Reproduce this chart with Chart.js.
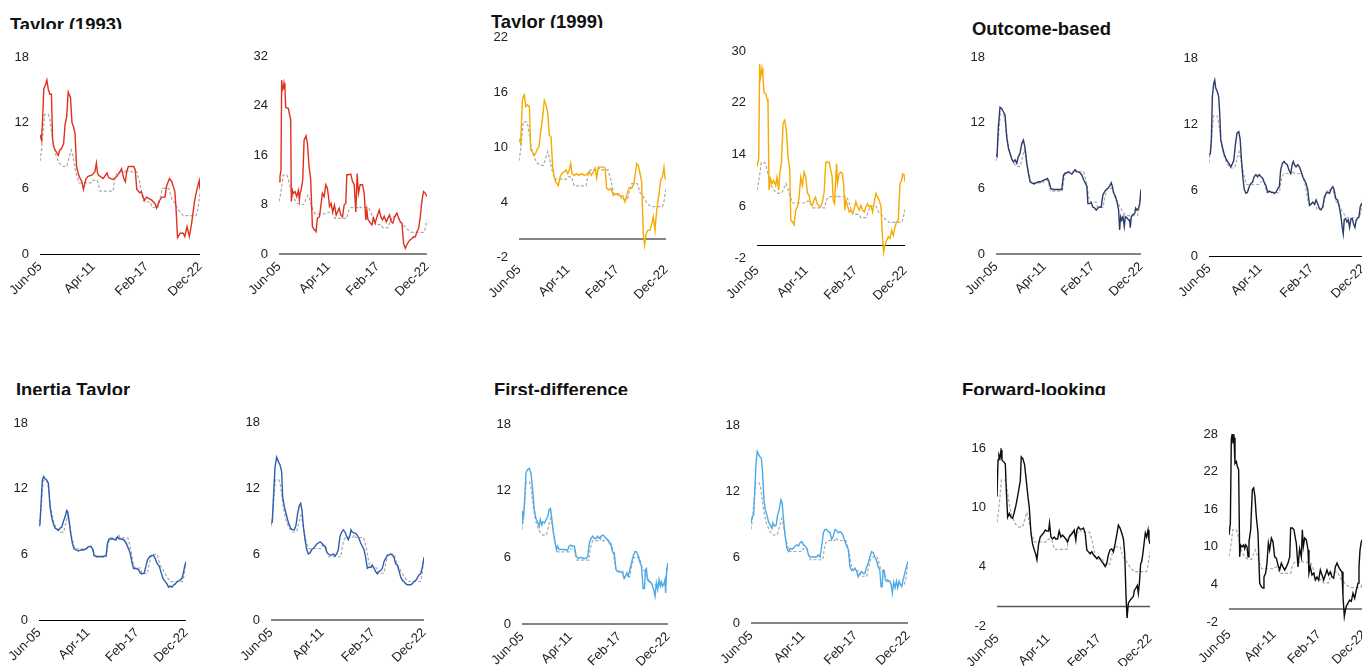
<!DOCTYPE html>
<html>
<head>
<meta charset="utf-8">
<script src="https://cdn.jsdelivr.net/npm/chart.js@4.4.1/dist/chart.umd.min.js"></script>
<style>
  html, body { margin: 0; padding: 0; background: #fff; width: 1362px; height: 666px; overflow: hidden; position: relative; }
  .ttl { position: absolute; font: bold 18.4px "Liberation Sans", Arial, sans-serif; line-height: 18px; color: #111; white-space: nowrap; overflow: hidden; }
  canvas { position: absolute; }
</style>
</head>
<body>
<div class="ttl" style="left:10px;top:16px;height:13px;">Taylor (1993)</div>
<div class="ttl" style="left:491px;top:13px;height:14.5px;">Taylor (1999)</div>
<div class="ttl" style="left:972px;top:19.5px;height:20px;">Outcome-based</div>
<div class="ttl" style="left:16px;top:381px;height:14px;">Inertia Taylor</div>
<div class="ttl" style="left:494px;top:380.5px;height:14px;">First-difference</div>
<div class="ttl" style="left:962px;top:381px;height:14px;">Forward-looking</div>
<script>
// x positions are months counted from Jun-05; tick labels sit every 70 months
const tickMonths = [0, 70, 140, 210];
const tickLabels = ['Jun-05', 'Apr-11', 'Feb-17', 'Dec-22'];

// policy rate (grey dashed reference line), [month, %]
const policyRate = [[0,8.5],[2,9.5],[4,11.0],[6,12.75],[11,12.75],[13,12.25],[15,11.25],[17,10.25],[19,9.5],[21,9.0],[24,8.5],[26,8.25],[30,8.0],[35,8.0],[37,8.5],[39,9.0],[41,9.5],[43,9.0],[45,8.25],[47,7.5],[49,7.0],[51,6.5],[68,6.5],[70,6.75],[75,6.75],[77,6.25],[79,5.75],[96,5.75],[98,6.75],[100,7.25],[102,7.5],[112,7.5],[114,7.75],[116,7.5],[127,7.5],[129,7.0],[131,6.5],[133,5.75],[135,5.0],[137,4.75],[145,4.75],[147,4.25],[155,4.25],[157,5.0],[159,5.5],[161,6.0],[169,6.0],[171,5.5],[173,5.0],[176,4.75],[178,4.5],[180,4.25],[182,4.0],[185,3.75],[188,3.5],[205,3.5],[207,4.0],[209,5.0],[210,5.5]];

// implied rates by rule, [month, %]
const taylor1993A = [[0,10.9],[2,10.4],[3.5,12.5],[5,15.1],[7,15.4],[9,15.9],[11,15.0],[13,14.6],[15,14.6],[16.5,10.5],[18,9.8],[20,9.5],[24,9.0],[26,9.5],[28,9.6],[31,10.1],[33,11.9],[35,12.5],[37,14.8],[40,14.3],[42,12.0],[44,11.6],[46,11.0],[48,8.0],[50,7.4],[52,7.0],[55,6.6],[57,5.9],[60,6.8],[63,7.1],[68,7.2],[72,7.5],[74,8.3],[75.5,7.4],[77,7.2],[83,6.9],[88,7.4],[90,7.0],[92,6.9],[96,6.8],[101,7.1],[104,7.4],[107,7.8],[110,6.9],[112,6.6],[114,7.6],[116,8.0],[123,8.0],[125,7.7],[127,5.9],[131,5.6],[133,5.7],[137,4.9],[140,5.2],[147,4.9],[151,4.6],[153,4.2],[157,4.9],[160,5.2],[164,5.2],[166,6.2],[170,6.9],[173,6.6],[177,5.7],[178.5,4.2],[180.5,1.5],[184,1.9],[188,1.9],[190,1.6],[193,2.5],[196,1.6],[199,2.8],[203,4.9],[206,5.9],[209,6.7],[210,5.9]];
const taylor1993B = [[0,11.7],[1.4,12.5],[2.8,13.6],[3.8,28.1],[5,26.5],[6.2,26.8],[7.1,27.6],[8.5,26.5],[9.5,23.7],[13.3,23.5],[14.7,22.7],[16.6,21.7],[17.5,8.5],[19,10.3],[20.4,9.8],[22.8,10.1],[25.1,9.3],[27.5,10.3],[28.9,8.7],[29.9,9.8],[31.3,10.3],[33.7,12.0],[35.6,18.4],[38.4,19.1],[40.3,17.9],[42.7,14.1],[45,12.0],[47.4,4.4],[49.8,4.0],[52.6,3.6],[54.5,5.8],[57.4,6.0],[59.3,7.7],[61.6,9.8],[64,9.3],[66.4,11.2],[68.7,10.6],[70.2,9.3],[71.6,7.7],[73.9,8.2],[76.3,6.8],[78.7,7.9],[81.1,6.3],[83,6.8],[85.3,7.4],[87.7,6.3],[90.1,6.0],[92.4,7.9],[94.8,8.2],[96.2,12.8],[98.6,12.8],[101.9,12.9],[104.3,11.7],[106.7,11.2],[109,6.8],[110.9,13.0],[112.8,9.8],[115.2,11.2],[118.5,11.2],[120.9,9.8],[123.2,5.5],[124.7,7.1],[126.1,5.6],[128.5,5.2],[131.8,4.7],[134.1,5.8],[136.5,5.0],[138.9,6.0],[142.2,7.1],[144.6,6.0],[146.9,5.5],[149.3,6.1],[152.2,5.2],[154.5,5.8],[156.9,6.3],[159.3,5.2],[161.6,5.0],[164,6.0],[167.3,6.6],[169.7,5.8],[172.1,5.2],[174.4,5.0],[176.8,1.7],[179.2,0.9],[181.5,1.5],[183.9,2.0],[186.3,2.3],[188.7,2.5],[191,2.8],[193.4,2.8],[195.8,3.6],[198.1,4.1],[200.5,6.0],[201.9,7.7],[203.3,9.0],[205.2,10.1],[207.6,9.8],[210,9.3]];
const taylor1999A = [[0,10.9],[2.4,10.4],[4.8,15.1],[6.2,15.5],[7.6,15.7],[9.5,14.4],[11.9,14.6],[14.8,14.4],[16.7,9.7],[19,9.5],[21.9,9.1],[23.8,9.3],[26.2,9.8],[28.6,10.0],[31,11.7],[33.3,12.9],[36.2,15.1],[38.6,14.6],[41,13.7],[43.3,11.3],[45.7,11.1],[48.1,7.8],[50,6.9],[52.4,6.2],[56.2,5.8],[58.6,6.7],[61,7.1],[64.3,7.3],[67.1,7.5],[69.5,7.1],[71.9,7.5],[73.8,8.2],[75.7,7.1],[79,6.9],[82.4,7.1],[85.7,6.9],[89.5,7.1],[93.3,6.9],[96.7,7.0],[100,7.3],[103.3,6.9],[106.2,7.3],[108.6,7.7],[111,6.6],[113.3,7.8],[116.7,7.8],[120.5,7.8],[122.9,7.7],[125.2,5.5],[128.6,5.3],[131.4,5.5],[134.8,4.7],[138.1,4.9],[141.9,4.9],[145.2,4.6],[148.1,4.7],[151.4,4.0],[153.8,4.7],[157.1,5.5],[161,5.5],[164.3,6.0],[168.1,8.2],[170.5,8.0],[172.9,7.1],[175.2,6.2],[177.6,0.5],[179.5,-0.7],[181.4,0.5],[183.8,0.9],[187.1,0.9],[189.5,1.6],[191.9,2.4],[194.3,0.9],[196.7,3.1],[200,4.9],[202.4,6.4],[204.8,6.7],[207.1,7.8],[208.6,6.6],[210,6.4]];
const taylor1999B = [[0,12.1],[2.4,13.4],[3.8,28.0],[5.2,26.0],[7.1,27.3],[8.5,26.0],[10,23.6],[12.3,23.4],[14.2,22.6],[15.6,22.1],[17.1,8.5],[19,10.3],[21.3,9.5],[23.7,10.0],[26.5,9.2],[28.4,10.5],[30.8,8.5],[32.2,11.0],[34.6,12.6],[37,18.8],[39.3,19.3],[41.7,17.7],[44.1,13.6],[46.5,11.5],[47.9,3.8],[50.2,3.6],[52.6,3.1],[55,5.4],[57.4,5.9],[59.7,7.4],[62.1,10.5],[64.5,9.2],[66.8,11.3],[69.2,10.5],[71.6,8.0],[73.9,7.7],[75.8,6.4],[78.2,6.1],[80.6,6.9],[83,7.4],[85.3,6.4],[87.7,6.1],[90.1,5.9],[92.9,6.7],[95.3,8.2],[97.6,12.8],[100,12.8],[102.4,12.8],[104.8,11.5],[106.7,10.5],[108.1,6.9],[110,6.4],[112.8,12.6],[114.2,9.5],[116.6,11.0],[119,11.3],[121.3,11.0],[123.2,9.0],[124.7,5.4],[126.1,6.9],[128.5,6.1],[130.8,5.1],[133.2,5.4],[135.6,4.9],[137.9,5.6],[140.3,6.7],[142.7,5.9],[145,5.4],[147.4,6.1],[149.8,5.4],[152.2,5.1],[154.5,5.9],[156.9,6.4],[159.3,5.9],[161.6,6.1],[164,5.1],[166.4,6.7],[168.7,8.0],[171.1,7.4],[173.5,6.9],[175.9,5.9],[177.8,1.8],[179.6,-1.1],[181.5,0.0],[183.9,0.7],[186.3,1.3],[188.7,1.0],[191,2.3],[193.4,1.5],[195.8,2.8],[198.1,3.6],[200.5,3.8],[202.9,9.5],[205.2,10.0],[206.7,11.0],[208.6,10.9],[210,9.8]];
const outcomeA = [[0,9.0],[1.5,8.9],[3.4,11.6],[5.8,13.4],[8.2,13.3],[10.6,13.0],[13.1,12.7],[15.5,10.7],[17.9,9.7],[20.3,9.2],[22.7,8.7],[25.2,8.4],[27.6,8.6],[30,8.3],[32.4,8.9],[34.8,9.2],[37.3,10.1],[39.7,10.4],[42.1,9.7],[44.5,8.3],[46.9,7.4],[49.4,6.6],[51.8,6.5],[55.2,6.4],[58.1,6.5],[61.5,6.6],[64.8,6.6],[67.7,6.7],[71.1,6.8],[74.5,6.9],[76.9,6.6],[79.4,6.0],[82.3,5.9],[85.6,5.9],[89,5.9],[92.9,5.9],[95.3,5.9],[97.7,7.2],[100.2,7.4],[102.6,7.4],[105,7.5],[107.4,7.4],[109.8,7.3],[112.3,7.5],[114.7,7.7],[117.1,7.5],[119.5,7.5],[121.9,7.4],[124.4,7.2],[126.8,6.8],[129.2,6.5],[131.6,6.2],[133.1,4.6],[135.5,4.6],[137.9,4.7],[140.3,4.3],[142.7,4.2],[145.2,4.0],[147.6,4.2],[150,4.3],[152.4,4.3],[154.8,5.4],[157.3,5.7],[159.7,5.9],[162.1,6.0],[164.5,6.2],[166.9,6.5],[168.4,6.2],[170.3,5.6],[172.7,5.3],[175.2,4.8],[177.6,4.0],[179,2.2],[180.5,3.4],[182,3.1],[183.9,3.4],[185.8,2.5],[187.3,3.4],[189.7,3.3],[192.1,3.1],[193.5,3.1],[194.5,2.4],[195.9,3.4],[198.4,3.6],[200.8,3.7],[202.2,4.2],[204.2,4.0],[206.6,4.2],[208.1,4.6],[210,5.9]];
const outcomeB = [[0,9.2],[1.8,9.3],[3.2,10.6],[4.6,14.5],[6.4,15.7],[7.8,16.0],[9.1,15.3],[11,15.0],[13.2,14.5],[14.6,13.0],[16,10.6],[18.3,9.9],[20.5,9.3],[22.8,8.9],[25.1,8.6],[27.4,8.4],[29.7,8.1],[32,8.4],[33.8,8.7],[36.1,10.2],[38.3,11.2],[40.6,11.3],[42.5,10.6],[44.3,8.7],[46.1,7.2],[47.9,6.1],[50.2,5.7],[52.5,5.8],[54.8,6.3],[57.1,6.6],[59.3,6.7],[61.6,7.2],[63.9,7.4],[66.2,7.2],[68.5,7.4],[70.8,7.2],[73,7.1],[75.3,6.7],[77.6,6.4],[79.9,5.8],[82.2,5.9],[84.5,5.8],[86.7,5.8],[89,5.7],[91.3,5.8],[93.6,6.1],[95.9,6.3],[97.7,7.8],[100,8.4],[102.3,8.6],[104.5,8.4],[106.8,8.3],[109.1,7.8],[111.4,7.5],[113.7,8.4],[115,8.6],[116.4,8.3],[118.7,8.1],[121,8.3],[123.3,8.1],[125.5,7.7],[127.8,7.2],[130.1,6.9],[132.4,6.6],[134.7,6.0],[137,4.6],[139.2,4.7],[141.5,4.9],[143.8,4.7],[146.1,5.1],[148.4,4.7],[150.6,4.3],[152.9,4.2],[155.2,4.5],[157.5,5.4],[159.8,5.7],[162.1,5.8],[164.3,5.7],[166.6,6.1],[168.9,6.3],[170.7,6.0],[173,5.2],[175.3,5.1],[177.6,4.5],[179.9,3.6],[181.7,2.6],[183.1,2.0],[184.4,3.3],[186.3,3.4],[188.1,3.1],[189.9,3.3],[191.7,2.6],[193.6,3.4],[195.4,3.4],[197.2,2.9],[199,2.6],[200.9,3.3],[202.7,3.4],[204.5,3.6],[206.3,4.5],[207.7,4.7],[209.1,4.6],[210,5.2]];
const inertiaA = [[0,8.7],[1.4,8.8],[2.9,10.6],[4.8,12.8],[6.7,13.1],[8.6,12.9],[11,12.8],[13.4,12.5],[15.8,10.3],[18.1,9.4],[20.5,8.8],[22.9,8.4],[25.3,8.3],[27.7,8.2],[30.1,8.4],[32.5,8.5],[34.8,9.0],[37.2,9.4],[39.6,10.0],[41,9.9],[43,9.1],[45.3,7.9],[47.7,7.0],[50.1,6.5],[53,6.4],[56.3,6.3],[59.7,6.4],[63.5,6.4],[67.3,6.5],[70.6,6.7],[74,6.7],[76.8,6.5],[78.8,5.9],[82.6,5.8],[87.3,5.8],[92.1,5.8],[95.9,5.9],[97.8,7.0],[100.2,7.4],[103.1,7.4],[106.4,7.4],[109.8,7.3],[112.2,7.6],[115,7.4],[118.4,7.4],[121.7,7.3],[124.6,7.0],[127.9,6.5],[130.3,6.1],[132.7,5.3],[135.1,4.7],[138.9,4.7],[142.2,4.6],[144.6,4.3],[147,4.2],[150.4,4.3],[152.7,4.9],[155.1,5.5],[158,5.8],[161.3,5.9],[163.7,5.9],[166.1,5.6],[168.5,5.2],[171.8,4.9],[174.2,4.4],[177.1,3.8],[180.4,3.5],[182.8,3.3],[185.2,3.0],[187.6,3.1],[190,3.0],[192.4,3.2],[194.7,3.3],[197.1,3.5],[200.5,3.6],[204.3,3.8],[206.2,4.3],[208.1,4.9],[210,5.3]];
const inertiaB = [[0,8.8],[1.8,8.9],[3.2,10.9],[5.5,13.9],[7.8,14.8],[10.1,14.4],[12.4,14.1],[14.6,13.5],[16,11.2],[18.3,10.3],[20.6,9.7],[22.9,9.1],[25.2,8.6],[27.5,8.3],[29.7,8.2],[32,8.2],[34.3,8.6],[36.6,9.7],[38.9,10.4],[40.7,10.6],[42.5,10.0],[44.4,8.5],[46.7,7.3],[49,6.4],[51.2,6.0],[53.5,6.1],[55.8,6.4],[58.1,6.5],[60.4,6.7],[62.7,6.9],[65,7.0],[67.3,7.1],[69.5,7.0],[71.8,6.8],[74.1,6.7],[76.4,6.2],[78.7,6.0],[81,5.9],[83.3,5.9],[85.6,6.0],[87.8,5.8],[90.1,6.0],[92.4,6.4],[94.7,7.6],[97,8.0],[99.3,8.2],[101.6,8.0],[103.9,7.6],[106.1,7.3],[108.4,7.7],[109.8,8.2],[111.6,8.0],[113.9,7.9],[116.2,7.9],[118.5,7.7],[120.8,7.4],[123.1,7.0],[125.4,6.7],[127.6,6.4],[129.9,5.7],[132.2,4.7],[134.5,4.8],[136.8,4.8],[139.1,5.0],[141.4,4.7],[143.7,4.4],[145.9,4.2],[148.2,4.4],[150.5,4.5],[152.8,4.7],[155.1,5.3],[157.4,5.6],[159.7,5.9],[162,5.9],[164.2,6.0],[166.5,5.9],[168.8,5.7],[171.1,5.1],[173.4,5.0],[175.7,4.5],[178,3.9],[180.3,3.6],[182.5,3.5],[184.8,3.3],[187.1,3.2],[189.4,3.2],[191.7,3.2],[194,3.3],[196.3,3.5],[198.6,3.6],[200.8,3.8],[203.1,4.1],[205.4,4.2],[207.7,4.8],[210,5.7]];
const firstDiffA = [[0,9.1],[1,10.0],[2.4,9.8],[3.8,11.2],[5.7,13.6],[8.1,13.9],[10.5,14.0],[12.9,13.6],[15.3,12.1],[17.7,10.3],[20,9.5],[22.4,9.2],[24.8,8.8],[26.3,9.4],[28.6,8.9],[30.1,9.2],[32.5,9.1],[34.8,9.4],[37.2,9.7],[39.1,10.3],[41,10.4],[43,9.4],[45.3,8.2],[47.7,7.3],[49.6,6.7],[51.1,7.0],[53.5,6.7],[55.8,6.7],[58.7,6.7],[62,6.7],[65.4,6.6],[67.8,7.0],[70.2,7.1],[72.5,7.0],[75.4,7.0],[77.8,6.1],[81.1,5.9],[84.5,6.0],[88.3,5.9],[92.1,5.9],[94.5,6.1],[96.9,7.3],[99.3,7.7],[101.7,7.9],[104,7.7],[106.4,7.7],[108.8,7.9],[111.2,7.7],[113.6,7.9],[116,8.0],[118.4,7.9],[120.8,7.7],[123.1,7.6],[125.5,7.3],[127.9,7.1],[130.3,6.5],[132.7,6.4],[135.1,4.9],[137.5,4.7],[139.8,4.7],[142.2,4.7],[144.6,4.6],[147,4.1],[148.9,4.3],[150.8,4.6],[152.7,4.3],[155.1,4.9],[157.5,5.5],[159.9,6.1],[162.3,6.5],[164.7,6.5],[167.1,6.1],[169.4,5.6],[171.8,5.2],[174.2,3.2],[176.1,3.2],[177.6,4.9],[179,5.0],[180.4,4.0],[182.8,3.8],[184.7,3.8],[187.1,3.5],[189.5,3.1],[191.4,2.5],[193.3,3.7],[195.2,3.1],[197.1,4.0],[199,3.4],[200.5,3.8],[202.4,3.4],[204.3,3.7],[205.7,4.0],[206.6,2.8],[208.1,4.9],[210,5.5]];
const firstDiffB = [[0,9.1],[1.8,9.7],[3.6,9.8],[4.9,11.8],[6.7,14.5],[8.4,15.6],[10.2,15.3],[12,15.1],[13.8,15.0],[15.5,13.6],[17.3,11.2],[19.1,10.3],[21.3,9.8],[23.5,9.2],[25.8,8.9],[28,8.6],[29.3,9.1],[31.5,8.8],[33.7,8.9],[35.5,9.8],[37.7,10.3],[40,11.2],[41.7,10.9],[43.5,9.4],[45.7,7.9],[48,6.8],[50.2,6.5],[52.4,6.8],[54.6,6.7],[56.8,6.8],[59.1,7.0],[61.3,7.1],[63.5,7.0],[65.7,7.3],[67.9,7.4],[70.2,7.1],[72.4,7.0],[74.6,6.8],[76.8,6.2],[79,6.0],[81.3,6.0],[83.5,6.0],[85.7,6.0],[87.9,6.0],[90.1,6.2],[92.4,6.0],[94.6,7.0],[96.8,8.2],[99,8.5],[101.2,8.5],[103.5,8.3],[105.7,8.2],[107.9,7.6],[110.1,7.9],[112.3,8.5],[114.6,8.4],[116.8,8.2],[119,8.3],[121.2,8.2],[123.4,7.9],[125.7,7.4],[127.9,7.0],[130.1,6.7],[132.3,5.1],[134.5,4.8],[136.8,4.8],[139,5.0],[141.2,4.7],[143.4,4.2],[145.6,4.5],[147.9,4.7],[150.1,4.5],[152.3,4.5],[154.5,5.1],[156.7,5.4],[159,6.0],[161.2,6.5],[163.4,6.4],[165.6,6.0],[167.8,5.7],[170.1,5.1],[172.3,4.8],[174,3.3],[175.4,3.3],[176.7,4.8],[178,4.8],[179.8,3.9],[182,3.8],[183.8,3.8],[185.6,3.8],[187.4,3.5],[189.1,2.7],[190.9,3.7],[192.7,3.2],[194.5,3.8],[196.2,3.2],[198,3.8],[199.8,3.5],[201.6,3.3],[203.4,3.9],[205.6,4.5],[207.8,5.1],[210,5.6]];
const forwardA = [[0,11.1],[1.4,14.8],[2.7,15.3],[4.1,15.0],[5.5,15.8],[6.8,14.8],[9.1,14.6],[11.4,14.4],[12.8,11.7],[14.6,9.0],[16.9,9.4],[19.2,9.0],[21.5,8.9],[23.7,9.5],[26,10.2],[28.3,11.1],[30.6,12.1],[32,12.7],[33.3,15.1],[35.6,14.9],[37.9,14.3],[40.2,12.7],[42.5,11.1],[44.3,10.0],[46.6,7.4],[48.8,6.3],[51.1,5.7],[53.4,5.2],[54.8,4.7],[57.1,6.3],[59.3,7.0],[61.6,7.2],[63.9,7.4],[66.2,7.7],[68.5,7.6],[70.8,7.6],[72.1,8.4],[74,7.0],[76.2,6.8],[78.5,7.0],[80.8,6.8],[83.1,6.8],[85.4,7.6],[87.6,7.0],[89.9,7.2],[92.2,7.0],[94.5,6.8],[96.8,6.5],[99.1,7.0],[101.3,7.2],[103.6,7.4],[105.9,7.7],[108.2,6.7],[109.6,7.7],[111.9,8.0],[114.1,7.8],[116.4,7.8],[118.7,7.9],[121,7.4],[123.3,5.7],[125.5,5.5],[127.8,5.3],[130.1,5.5],[132.4,5.2],[134.7,5.0],[137,4.8],[139.2,5.0],[141.5,4.8],[143.8,4.5],[146.1,4.3],[148.4,4.0],[150.6,4.3],[152.9,5.2],[155.2,5.7],[157.5,5.8],[159.8,5.5],[162.1,6.3],[164.3,7.2],[166.6,8.2],[168.9,7.9],[171.2,7.4],[173.5,6.8],[175.3,5.3],[177.1,1.0],[178.5,-1.2],[180.3,0.3],[182.6,0.6],[184.9,0.8],[187.2,1.0],[188.5,1.6],[190.4,1.8],[192.6,2.1],[194,1.3],[195.4,2.3],[197.2,4.3],[198.6,4.5],[200,5.2],[201.8,6.3],[203.6,7.4],[205.4,7.0],[207.3,7.7],[208.6,6.7],[210,6.3]];
const forwardB = [[0,11.9],[2.1,13.7],[3.6,27.1],[5.2,28.2],[6.2,26.5],[7.8,27.4],[9.3,23.3],[11.4,23.6],[13,22.8],[15,22.3],[16.6,8.4],[18.1,10.3],[20.2,10.0],[22.8,10.3],[24.4,9.7],[25.9,10.3],[28,10.0],[29.6,8.4],[31.1,10.8],[33.7,12.7],[36.3,19.1],[38.4,19.4],[40.4,18.0],[42.5,14.8],[45.1,12.2],[47.7,4.2],[50.3,3.6],[52.9,3.4],[54.4,5.2],[57,5.8],[59.1,7.4],[61.2,10.6],[63.2,9.5],[65.9,11.4],[68.4,10.8],[71,8.4],[73.6,8.2],[76.2,7.1],[78.8,6.3],[81.4,7.4],[84,6.8],[86.6,6.3],[89.2,6.8],[91.8,7.4],[94.4,8.4],[95.9,13.0],[98.5,13.0],[101.1,12.7],[103.2,11.4],[104.7,10.6],[107.3,6.8],[109.9,9.7],[112.5,8.4],[114.1,12.7],[115.6,10.0],[117.7,11.4],[120.3,11.1],[122.9,9.5],[124.4,5.8],[126.5,6.8],[129.1,5.5],[131.7,5.8],[134.3,4.7],[136.9,5.2],[139.5,4.7],[142.1,6.3],[144.7,5.5],[147.3,4.7],[149.8,5.5],[152.4,6.3],[155,5.5],[157.6,6.0],[160.2,5.2],[162.8,5.0],[165.4,6.8],[168,7.4],[170.6,6.8],[173.2,6.3],[175.8,6.0],[177.3,2.1],[179.4,-1.1],[181,-0.1],[182.5,0.5],[185.1,1.0],[187.7,1.5],[190.3,1.3],[192.9,2.6],[195.5,1.8],[198.1,3.1],[200.7,4.2],[202.2,6.8],[203.8,9.5],[205.8,10.8],[207.4,11.1],[210,11.6]];

// y-axis ranges: [min, max, step]
const yRanges = {
  taylor1993A: [0, 18, 6],  taylor1993B: [0, 32, 8],
  taylor1999A: [-2, 22, 6], taylor1999B: [-2, 30, 8],
  outcomeA: [0, 18, 6],     outcomeB: [0, 18, 6],
  inertiaA: [0, 18, 6],     inertiaB: [0, 18, 6],
  firstDiffA: [0, 18, 6],   firstDiffB: [0, 18, 6],
  forwardA: [-2, 16, 6],    forwardB: [-2, 28, 6]
};

// page layout: plot-area edges in page pixels, line colour and zero-axis style
const panels = [
  { key: 'taylor1993A', series: taylor1993A, L: 40,   R: 200,  T: 56.7,  B: 254,   color: '#E0301E', axis: ['#000', 1] },
  { key: 'taylor1993B', series: taylor1993B, L: 279,  R: 427,  T: 56,    B: 254,   color: '#E0301E', axis: ['#858585', 2] },
  { key: 'taylor1999A', series: taylor1999A, L: 519,  R: 666,  T: 37.3,  B: 256.7, color: '#F7AA00', axis: ['#858585', 2] },
  { key: 'taylor1999B', series: taylor1999B, L: 757,  R: 905,  T: 50.7,  B: 257.7, color: '#F7AA00', axis: ['#000', 1] },
  { key: 'outcomeA',    series: outcomeA,    L: 996,  R: 1141, T: 56.7,  B: 254.3, color: '#2B3B6B', axis: ['#858585', 2] },
  { key: 'outcomeB',    series: outcomeB,    L: 1209, R: 1363, T: 58.3,  B: 255.7, color: '#2B3B6B', axis: ['#000', 1] },
  { key: 'inertiaA',    series: inertiaA,    L: 39,   R: 186,  T: 422.7, B: 620,   color: '#2D5DB2', axis: ['#000', 1] },
  { key: 'inertiaB',    series: inertiaB,    L: 271,  R: 424,  T: 421.7, B: 620,   color: '#2D5DB2', axis: ['#858585', 2] },
  { key: 'firstDiffA',  series: firstDiffA,  L: 522,  R: 668,  T: 424.3, B: 624,   color: '#4DAAE8', axis: ['#858585', 2] },
  { key: 'firstDiffB',  series: firstDiffB,  L: 751,  R: 908,  T: 425,   B: 623.3, color: '#4DAAE8', axis: ['#858585', 2] },
  { key: 'forwardA',    series: forwardA,    L: 997,  R: 1150, T: 447.7, B: 626,   color: '#0d0d0d', axis: ['#555', 1.5] },
  { key: 'forwardB',    series: forwardB,    L: 1229, R: 1364, T: 434.3, B: 622,   color: '#0d0d0d', axis: ['#858585', 2] }
];

const toXY = arr => arr.map(([x, y]) => ({ x, y }));
const tickFont = { family: '"Liberation Sans", Arial, sans-serif', size: 13 };

// horizontal axis line drawn at value 0 of the y scale
const zeroLine = {
  id: 'zeroLine',
  beforeDatasetsDraw(chart, args, opts) {
    const { ctx, chartArea, scales } = chart;
    const y = Math.round(scales.y.getPixelForValue(0)) + (opts.width % 2 ? 0.5 : 0);
    ctx.save();
    ctx.strokeStyle = opts.color;
    ctx.lineWidth = opts.width;
    ctx.beginPath();
    ctx.moveTo(chartArea.left, y);
    ctx.lineTo(chartArea.right, y);
    ctx.stroke();
    ctx.restore();
  }
};

const YW = 44, PT = 26, PR = 20, XH = 56;

panels.forEach(p => {
  const [ymin, ymax, ystep] = yRanges[p.key];
  const cv = document.createElement('canvas');
  const left = Math.round(p.L - YW), top = Math.round(p.T - PT);
  const w = Math.round(p.R) + PR - left;
  const h = Math.round(p.B) + XH - top;
  cv.width = w; cv.height = h;
  cv.style.width = w + 'px'; cv.style.height = h + 'px';
  cv.style.left = left + 'px';
  cv.style.top = top + 'px';
  document.body.appendChild(cv);

  new Chart(cv, {
    type: 'line',
    data: {
      datasets: [
        { data: toXY(p.series), borderColor: p.color, borderWidth: 1.4, pointRadius: 0, tension: 0, fill: false },
        { data: toXY(policyRate), borderColor: '#a8a8a8', borderWidth: 1.2, borderDash: [3, 2], pointRadius: 0, tension: 0, fill: false }
      ]
    },
    options: {
      responsive: false,
      animation: false,
      devicePixelRatio: 1,
      layout: { padding: { left: Math.round(p.L) - left - YW, top: Math.round(p.T) - top, right: PR, bottom: 0 } },
      plugins: {
        legend: { display: false },
        tooltip: { enabled: false },
        zeroLine: { color: p.axis[0], width: p.axis[1] }
      },
      scales: {
        x: {
          type: 'linear', min: 0, max: 210,
          grid: { display: false, drawTicks: false },
          border: { display: false },
          ticks: {
            stepSize: 70, autoSkip: false, minRotation: 45, maxRotation: 45, padding: 5,
            font: tickFont, color: '#222',
            callback: v => tickLabels[tickMonths.indexOf(v)]
          },
          afterFit: s => { s.height = XH; }
        },
        y: {
          min: ymin, max: ymax,
          grid: { display: false, drawTicks: false },
          border: { display: false },
          ticks: { stepSize: ystep, padding: 11, font: tickFont, color: '#222' },
          afterFit: s => { s.width = YW; }
        }
      }
    },
    plugins: [zeroLine]
  });
});
</script>
</body>
</html>
